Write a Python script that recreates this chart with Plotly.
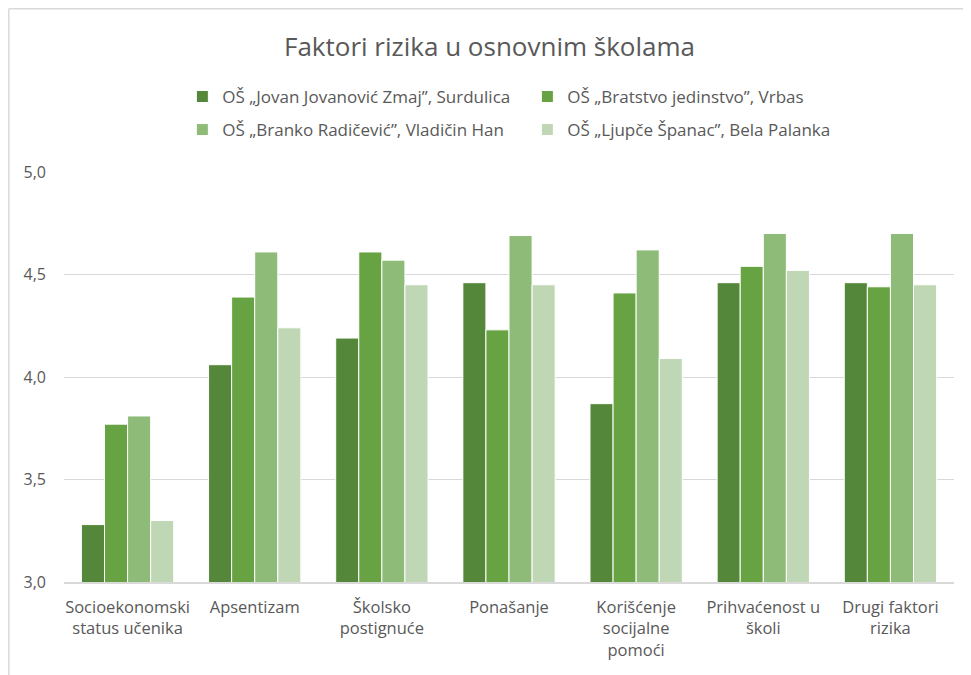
import plotly.graph_objects as go

categories = [
    "Socioekonomski<br>status učenika",
    "Apsentizam",
    "Školsko<br>postignuće",
    "Ponašanje",
    "Korišćenje<br>socijalne<br>pomoći",
    "Prihvaćenost u<br>školi",
    "Drugi faktori<br>rizika",
]

surdulica = [3.28, 4.06, 4.19, 4.46, 3.87, 4.46, 4.46]
vrbas = [3.77, 4.39, 4.61, 4.23, 4.41, 4.54, 4.44]
vladicin_han = [3.81, 4.61, 4.57, 4.69, 4.62, 4.70, 4.70]
bela_palanka = [3.30, 4.24, 4.45, 4.45, 4.09, 4.52, 4.45]

series_names = [
    "OŠ „Jovan Jovanović Zmaj”, Surdulica",
    "OŠ „Bratstvo jedinstvo”, Vrbas",
    "OŠ „Branko Radičević”, Vladičin Han",
    "OŠ „Ljupče Španac”, Bela Palanka",
]
series_values = [surdulica, vrbas, vladicin_han, bela_palanka]
colors = ["#548739", "#67A243", "#8FBB79", "#C0D7B5"]
legend_rows = ["legend", "legend", "legend2", "legend2"]

FONT = "Open Sans"
GRAY = "#595959"
GRID = "#D9D9D9"

fig = go.Figure()
for name, values, color, lg in zip(series_names, series_values, colors, legend_rows):
    fig.add_trace(
        go.Bar(
            x=categories,
            y=values,
            name=name,
            legend=lg,
            marker=dict(color=color, line=dict(color="white", width=1)),
        )
    )

legend_style = dict(
    orientation="h",
    xanchor="left",
    yanchor="middle",
    entrywidth=300,
    entrywidthmode="pixels",
    font=dict(family=FONT, size=17, color=GRAY),
    bgcolor="rgba(0,0,0,0)",
)

# the page body adds an 8px margin, so the figure is sized 8px smaller
fig.update_layout(
    width=963,
    height=667,
    paper_bgcolor="white",
    plot_bgcolor="white",
    separators=", ",
    barmode="group",
    bargap=0.274,
    bargroupgap=0,
    margin=dict(l=56, r=17, t=164, b=93),
    font=dict(family=FONT, color=GRAY, size=16),
    title=dict(
        text="Faktori rizika u osnovnim školama",
        x=0.5,
        xanchor="center",
        xref="container",
        y=0.9415,
        yanchor="middle",
        font=dict(family=FONT, size=26, color=GRAY),
    ),
    legend=dict(x=0.133, y=1.183, **legend_style),
    legend2=dict(x=0.133, y=1.1024, **legend_style),
    xaxis=dict(
        showline=True,
        linecolor=GRID,
        linewidth=2,
        ticks="",
        ticklabelstandoff=9,
        automargin=False,
        tickfont=dict(size=16.5, color=GRAY),
    ),
    yaxis=dict(
        range=[3.0, 5.0],
        dtick=0.5,
        tickformat=".1f",
        showgrid=True,
        gridcolor=GRID,
        gridwidth=1,
        zeroline=False,
        ticks="",
        ticklabelstandoff=17,
        automargin=False,
        tickfont=dict(size=16, color=GRAY),
    ),
    shapes=[
        dict(type="line", xref="paper", yref="paper", x0=-0.062, x1=1.2,
             y0=1.398, y1=1.398, line=dict(color=GRID, width=1.5)),
        dict(type="line", xref="paper", yref="paper", x0=-0.062, x1=-0.062,
             y0=1.398, y1=-0.3, line=dict(color=GRID, width=1.5)),
    ],
)

fig.write_html("out.html")
